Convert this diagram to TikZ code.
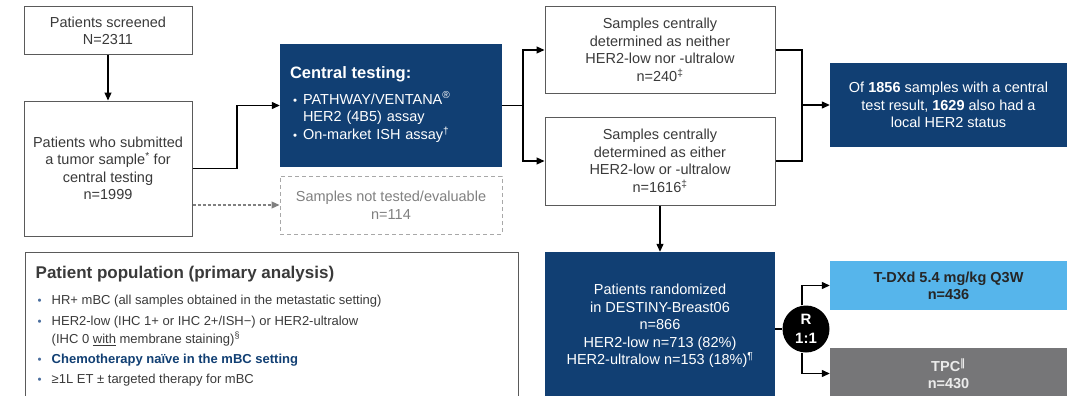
\documentclass[tikz,border=0pt]{standalone}
\usepackage{fontspec}
\setmainfont{Liberation Sans}
\newfontfamily\symfont{DejaVu Sans}
\usepackage{xcolor}
\usetikzlibrary{arrows.meta}

\definecolor{navy}{HTML}{113F73}
\definecolor{skyblue}{HTML}{56B5EB}
\definecolor{tpcgray}{HTML}{767678}
\definecolor{txtgray}{HTML}{3A3A3A}
\definecolor{framegray}{HTML}{5A5A5A}
\definecolor{dashgray}{HTML}{A8A8A8}
\definecolor{bulletblue}{HTML}{4A6E9E}

\tikzset{
    every node/.style={font=\fontsize{14.5}{17.5}\selectfont, text=txtgray},
    whitebox/.style={draw=framegray, line width=1pt, fill=white, align=center, inner sep=0pt},
    bluebox/.style={fill=navy, text=white, align=center, inner sep=0pt},
    greybox/.style={draw=dashgray, line width=1pt, dash pattern=on 4pt off 3pt, text=gray, align=center, inner sep=0pt},
    arr/.style={line width=1.2pt, -{Triangle[length=8pt,width=7pt]}},
    dasharr/.style={line width=1.2pt, draw=gray, dash pattern=on 3pt off 2pt, -{Triangle[length=8pt,width=7pt]}},
    wire/.style={line width=1.2pt}
}
\newcommand{\dotb}{{\fontsize{11.5}{11.5}\selectfont\textbullet}}

\begin{document}
\begin{tikzpicture}[x=1pt, y=-1pt]
    \useasboundingbox (0,0) rectangle (1068,396);
    \clip (0,0) rectangle (1068,396);
    \node[whitebox, minimum width=168, minimum height=48] (scr) at (108,31) {Patients screened\\N=2311};
    \node[whitebox, minimum width=168, minimum height=135] (sub) at (108,168.5) {Patients who submitted\\a tumor sample\textsuperscript{*} for\\central testing\\n=1999};
    \node[bluebox, minimum width=222, minimum height=123, text width=202pt, inner xsep=10pt, align=left] (cen) at (391,105.5) {%
        \begin{tabular}{@{\hspace{3pt}}l@{\hspace{6pt}}l@{}}
            \multicolumn{2}{@{}l}{\fontsize{16.5}{20}\selectfont\bfseries Central testing:}\\[8pt]
            \dotb & PATHWAY/VENTANA\textsuperscript{®}\\
                  & HER2 (4B5) assay\\
            \dotb & On-market ISH assay\textsuperscript{†}
        \end{tabular}};
    \node[greybox, minimum width=222, minimum height=58] (nte) at (391,205) {Samples not tested/evaluable\\n=114};
    \node[whitebox, minimum width=230, minimum height=86] (nei) at (660,50) {Samples centrally\\determined as neither\\HER2-low nor -ultralow\\n=240\textsuperscript{‡}};
    \node[whitebox, minimum width=230, minimum height=88] (eit) at (660,161) {Samples centrally\\determined as either\\HER2-low or -ultralow\\n=1616\textsuperscript{‡}};
    \node[bluebox, minimum width=237, minimum height=84] (res) at (948.5,105) {Of \textbf{1856} samples with a central\\test result, \textbf{1629} also had a\\local HER2 status};
    \node[bluebox, minimum width=230, minimum height=148] (rnd) at (660,326) {Patients randomized\\in DESTINY-Breast06\\n=866\\HER2-low n=713 (82\%)\\HER2-ultralow n=153 (18\%)\textsuperscript{¶}};
    \node[circle, fill=black, text=white, minimum size=47pt, inner sep=0pt, align=center, font=\fontsize{15}{19}\selectfont\bfseries] (r) at (806,329) {R\\1:1};
    \node[fill=skyblue, text=black!85, minimum width=237, minimum height=49, inner sep=0pt, align=center, font=\fontsize{14.5}{17}\selectfont\bfseries] (tdx) at (948.5,285.5) {T-DXd 5.4 mg/kg Q3W\\n=436};
    \node[fill=tpcgray, text=white!92!black, minimum width=237, minimum height=51, inner sep=0pt, align=center, font=\fontsize{14.5}{17}\selectfont\bfseries] (tpc) at (948.5,373.5) {TPC\textsuperscript{\symfont ‖}\\n=430};
    \node[draw=framegray, line width=1pt, minimum width=493, minimum height=148, inner sep=0pt] (pop) at (271.5,326) {};
    \node[anchor=north west, inner sep=0pt, font=\fontsize{13}{18}\selectfont] (popt) at ([xshift=11pt,yshift=-14pt]pop.north west) {%
        \begin{tabular}{@{\hspace{2pt}}l@{\hspace{10pt}}l@{}}
            \multicolumn{2}{@{}l}{\fontsize{17}{20}\selectfont\bfseries Patient population (primary analysis)}\\[8pt]
            \textcolor{bulletblue}{\dotb} & HR+ mBC (all samples obtained in the metastatic setting)\\[3pt]
            \textcolor{bulletblue}{\dotb} & HER2-low (IHC 1+ or IHC 2+/ISH−) or HER2-ultralow\\
                                         & (IHC 0 \underline{with} membrane staining)\textsuperscript{§}\\[2.5pt]
            \textcolor{bulletblue}{\dotb} & \textcolor{navy}{\bfseries Chemotherapy naïve in the mBC setting}\\[2pt]
            \textcolor{bulletblue}{\dotb} & ≥1L ET ± targeted therapy for mBC
        \end{tabular}};
    \coordinate (j1) at (237,0);
    \coordinate (j2) at (523,0);
    \coordinate (j3) at (802,0);
    \draw[arr] (scr) -- (sub);
    \draw[arr] (sub.east) -- (sub.east -| j1) |- (cen.west);
    \draw[dasharr] (sub.east |- nte.west) -- (nte.west);
    \draw[wire] (cen.east) -- (cen.east -| j2);
    \draw[arr] (cen.east -| j2) |- (nei.west);
    \draw[arr] (cen.east -| j2) |- (eit.west);
    \draw[wire] (nei.east) -- (nei.east -| j3) -- (eit.east -| j3) -- (eit.east);
    \draw[arr] (res.west -| j3) -- (res.west);
    \draw[arr] (eit.south) -- (rnd.north);
    \draw[wire] (rnd.east |- r.west) -- (r.west);
    \draw[arr] ([xshift=-4pt]r.north) |- (tdx.west);
    \draw[arr] ([xshift=-4pt]r.south) |- (tpc.west);
\end{tikzpicture}
\end{document}
